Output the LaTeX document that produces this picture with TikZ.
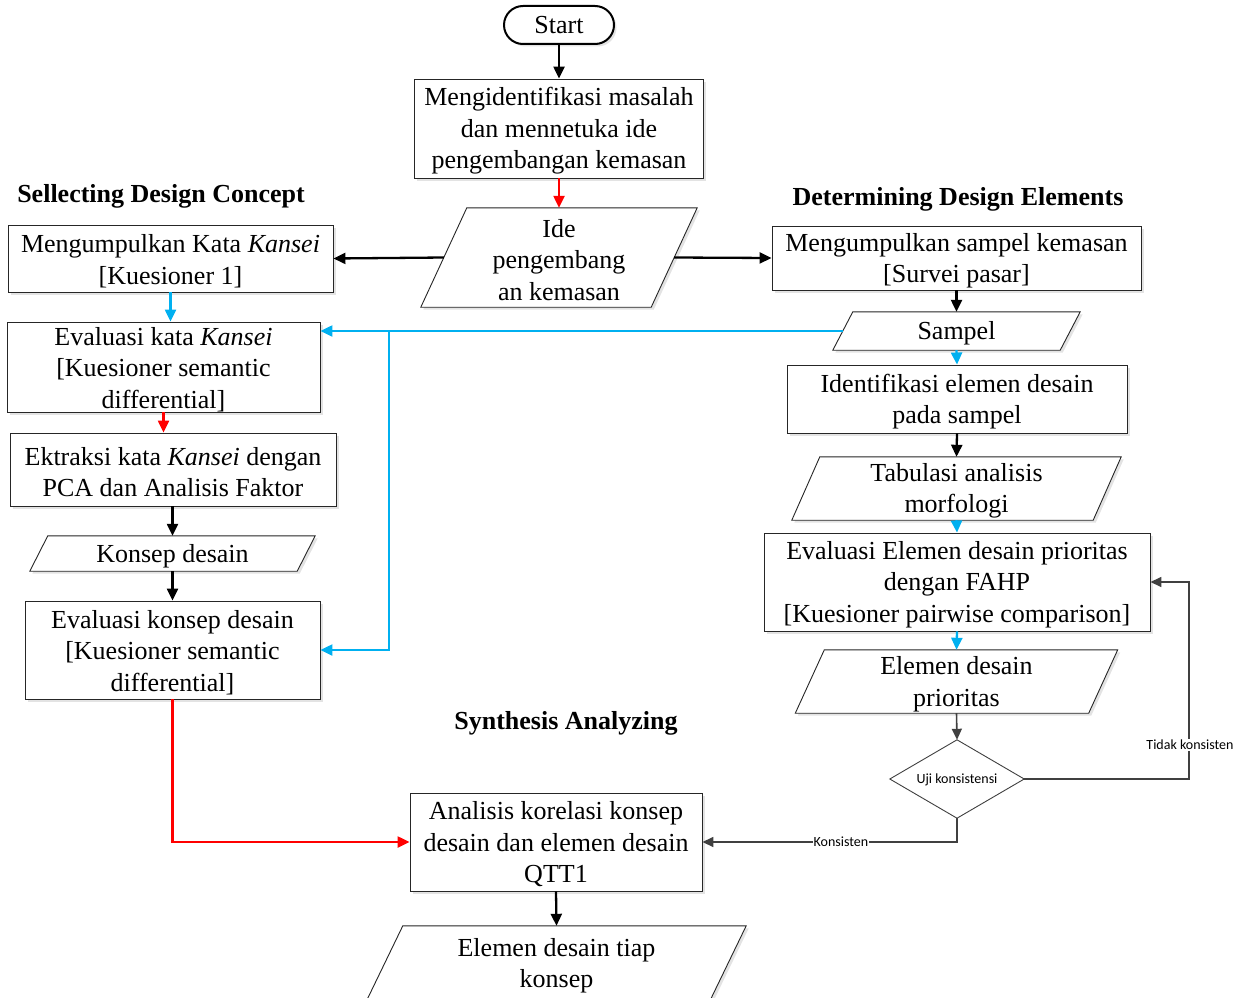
\documentclass[tikz,border=0pt]{standalone}
\usepackage{fontspec}
\setmainfont{Liberation Serif}
\newfontfamily\lblfont{Carlito}
\usetikzlibrary{arrows.meta,calc,shadows,backgrounds}
\definecolor{cblue}{HTML}{00B0F0}
\definecolor{cred}{HTML}{FF0000}
\definecolor{cgray}{HTML}{404040}
\tikzset{
  base/.style={font=\fontsize{26}{31.5}\selectfont, align=center, inner sep=0pt},
  tl/.style={base, yshift=-2.5pt},
  myshadow/.style={drop shadow={shadow xshift=2.5pt,shadow yshift=-2.5pt,fill=black!22}},
  procbox/.style={inner sep=0pt, draw=black!85, line width=0.9pt, fill=white, myshadow},
  paratext/.style={inner sep=0pt},
  parashape/.style={draw=black!85, line width=0.9pt, fill=white, myshadow},
  heading/.style={font=\fontsize{26}{31.5}\selectfont\bfseries, inner sep=0pt},
  lbl/.style={font=\lblfont\fontsize{14}{16}\selectfont, fill=white, inner sep=1pt},
  tipk/.style={-{Triangle[length=12pt,width=11pt]}},
  kflow/.style={line width=2.3pt, black, tipk},
  rflow/.style={line width=2.3pt, cred, tipk},
  bflow/.style={line width=2.3pt, cblue, tipk},
  gflow/.style={line width=1.6pt, cgray, -{Triangle[length=11pt,width=10pt]}},
}
\newcommand\drawpara[2]{%
  \begin{pgfonlayer}{background}
  \path[parashape] ($(#1.north west)+(#2,0)$) -- ($(#1.north east)+(#2,0)$)
     -- ($(#1.south east)-(#2,0)$) -- ($(#1.south west)-(#2,0)$) -- cycle;
  \end{pgfonlayer}}
\begin{document}
\begin{tikzpicture}[x=1pt,y=-1pt]
\useasboundingbox (0,0) rectangle (1247,998);

% headings
\node[heading] (h1) at (161,196) {Sellecting Design Concept};
\node[heading] (h2) at (958,199) {Determining Design Elements};
\node[heading] (h3) at (566,723) {Synthesis Analyzing};

% center column
\node[base, draw, line width=2pt, rounded corners=19pt, minimum width=110pt, minimum height=38pt, fill=white, myshadow] (start) at (559,25) {Start};
\node[procbox, minimum width=289pt, minimum height=99pt,
  label={[tl]center:{Mengidentifikasi masalah\\dan mennetuka ide\\pengembangan kemasan}}] (n1) at (559,128.5) {};
\node[paratext, minimum width=230pt, minimum height=99pt,
  label={[tl]center:{Ide\\pengembang\\an kemasan}}] (ide) at (559,257.5) {};
\drawpara{ide}{23}

% left column
\node[procbox, minimum width=325pt, minimum height=67pt,
  label={[tl]center:{Mengumpulkan Kata \textit{Kansei}\\{[}Kuesioner 1{]}}}] (lk1) at (170.5,258.5) {};
\node[procbox, minimum width=313pt, minimum height=90pt,
  label={[tl]center:{Evaluasi kata \textit{Kansei}\\{[}Kuesioner semantic\\differential{]}}}] (lk2) at (163.5,367) {};
\node[procbox, minimum width=326pt, minimum height=73pt,
  label={[tl]center:{Ektraksi kata \textit{Kansei} dengan\\PCA dan Analisis Faktor}}] (lk3) at (173,469.5) {};
\node[paratext, minimum width=267pt, minimum height=35pt,
  label={[tl]center:{Konsep desain}}] (konsep) at (172.5,553.5) {};
\drawpara{konsep}{9}
\node[procbox, minimum width=295pt, minimum height=98pt,
  label={[tl]center:{Evaluasi konsep desain\\{[}Kuesioner semantic\\differential{]}}}] (lk4) at (172.5,650) {};

% right column
\node[procbox, minimum width=369pt, minimum height=64pt,
  label={[tl]center:{Mengumpulkan sampel kemasan\\{[}Survei pasar{]}}}] (rk1) at (956.5,258) {};
\node[paratext, minimum width=227pt, minimum height=38pt,
  label={[tl]center:{Sampel}}] (sampel) at (956.5,331) {};
\drawpara{sampel}{10}
\node[procbox, minimum width=340pt, minimum height=68pt,
  label={[tl]center:{Identifikasi elemen desain\\pada sampel}}] (rk2) at (957,399) {};
\node[paratext, minimum width=301pt, minimum height=63pt,
  label={[tl]center:{Tabulasi analisis\\morfologi}}] (tab) at (956.5,488.5) {};
\drawpara{tab}{14}
\node[procbox, minimum width=386pt, minimum height=98pt,
  label={[tl]center:{Evaluasi Elemen desain prioritas\\dengan FAHP\\{[}Kuesioner pairwise comparison{]}}}] (rk3) at (957,582) {};
\node[paratext, minimum width=293pt, minimum height=63pt,
  label={[tl]center:{Elemen desain\\prioritas}}] (prior) at (956.5,681.5) {};
\drawpara{prior}{14.5}
\node[inner sep=0pt, minimum width=134pt, minimum height=78pt, text height=10pt, text depth=1pt, font=\lblfont\fontsize{14}{16}\selectfont] (uji) at (957,779) {Uji konsistensi};
\begin{pgfonlayer}{background}
\path[draw=black!75, line width=0.9pt, fill=white] (uji.north) -- (uji.east) -- (uji.south) -- (uji.west) -- cycle;
\end{pgfonlayer}

% bottom
\node[procbox, minimum width=292pt, minimum height=98pt,
  label={[tl]center:{Analisis korelasi konsep\\desain dan elemen desain\\QTT1}}] (ana) at (556,842) {};
\node[paratext, minimum width=343pt, minimum height=74pt,
  label={[tl]center:{Elemen desain tiap\\konsep}}] (fin) at (556.5,963) {};
\drawpara{fin}{18}

% connectors
\draw[kflow] (start) -- (n1);
\draw[rflow] (n1) -- (ide);
\draw[kflow] (ide.west) -- (lk1.east);
\draw[kflow] (ide.east) -- (rk1.west);
\draw[bflow] (lk1.south) -- (lk1.south |- lk2.north);
\draw[rflow] (lk2.south) -- (lk2.south |- lk3.north);
\draw[kflow] (lk3.south -| konsep.north) -- (konsep.north);
\draw[kflow] (konsep.south) -- (konsep.south |- lk4.north);
\draw[kflow] (rk1.south) -- (sampel.north);
\draw[bflow] (sampel.west) -- (sampel.west -| lk2.east);
\coordinate (br) at (389,331);
\draw[bflow] (br) |- (lk4.east);
\draw[bflow] (sampel.south) -- (rk2.north);
\draw[kflow] (rk2.south) -- (tab.north);
\draw[bflow] (tab.south) -- (rk3.north);
\draw[bflow] (rk3.south) -- (prior.north);
\draw[gflow] (prior.south) -- (uji.north);
\coordinate (tk) at (1189,779);
\draw[gflow] (uji.east) -- (tk) |- (rk3.east);
\node[lbl] (tidak) at (1190,745) {Tidak konsisten};
\draw[gflow] (uji.south) |- (ana.east);
\node[lbl] (kons) at (841,842) {Konsisten};
\draw[rflow] (lk4.south) |- (ana.west);
\draw[kflow] (ana.south) -- (fin.north);
\end{tikzpicture}
\end{document}
